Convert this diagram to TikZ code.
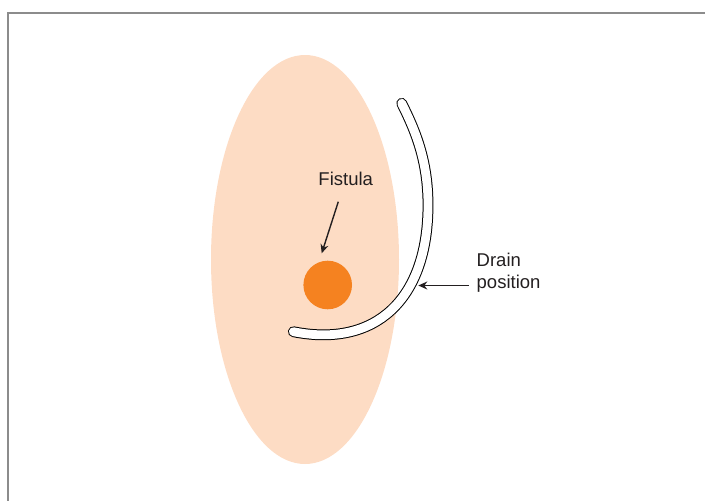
\documentclass[tikz,border=0pt]{standalone}
\usepackage{fontspec}
\setmainfont{Liberation Sans}
\usepackage{tikz}
\usetikzlibrary{arrows.meta}
\definecolor{skinPeach}{RGB}{253, 220, 196}
\definecolor{fistulaOrange}{RGB}{245, 130, 32}
\definecolor{frameGray}{RGB}{140, 140, 140}
\definecolor{inkDark}{RGB}{35, 31, 32}

\begin{document}
\begin{tikzpicture}[x=1pt, y=-1pt, ptr/.style={inkDark, line width=1.4pt, -{Stealth[length=9pt, width=8pt]}}, lbl/.style={inkDark, font=\fontsize{18.5}{22}\selectfont, inner sep=0pt}]
        \useasboundingbox (0,0) rectangle (705,501);
        \draw[frameGray, line width=1.5pt] (8,501) -- (8,13) -- (705,13);
        \fill[skinPeach] (305,259.5) ellipse [x radius=94, y radius=204.5];
        \node[circle, fill=fistulaOrange, minimum size=48.6pt, inner sep=0pt] (fistula) at (327.7,285) {};
        \draw[black, line width=10.8pt, line cap=round] (401.7,103.3) .. controls (415,130) and (428,160) .. (428,205) .. controls (428,300) and (375,348) .. (293.3,331.7);
        \draw[white, line width=8.8pt, line cap=round] (401.7,103.3) .. controls (415,130) and (428,160) .. (428,205) .. controls (428,300) and (375,348) .. (293.3,331.7);
        \node[lbl, anchor=base] (fistulalabel) at (345.7,185) {Fistula};
        \node[lbl, anchor=base west, align=left] (drainlabel) at (476.5,288.7) {Drain\\position};
        \coordinate (fstart) at (338.3,201.7);
        \coordinate (fend) at (321.7,253.3);
        \coordinate (dend) at (418.3,285.5);
        \draw[ptr] (fstart) -- (fend);
        \draw[ptr] ([xshift=-8pt]drainlabel.west |- dend) -- (dend);
      \end{tikzpicture}
\end{document}
